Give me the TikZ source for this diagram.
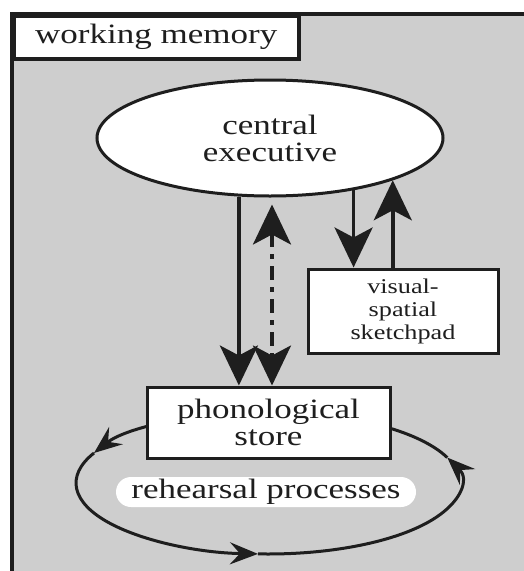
\documentclass[tikz,border=0pt]{standalone}
\usepackage{fontspec}
\setmainfont{Liberation Serif}[FakeStretch=1.25]
\usetikzlibrary{arrows.meta,shapes.geometric}
\definecolor{panelgray}{RGB}{206,206,206}
\definecolor{ink}{RGB}{30,30,30}
\tikzset{
  frameline/.style={draw=ink, line width=4pt},
  boxnode/.style={draw=ink, fill=white, line width=3pt, text=ink, align=center, inner sep=0pt,
    font=\fontsize{28}{27}\selectfont},
  bigtip/.tip={Stealth[length=40pt,width=38pt,inset=10pt]},
  smalltip/.tip={Stealth[length=28pt,width=22pt,inset=10pt]},
  bigarrow/.style={draw=ink, line width=3.5pt, -bigtip},
  bothways/.style={draw=ink, line width=3.5pt, bigtip-bigtip,
    dash pattern=on 14pt off 7pt on 5pt off 7pt},
  loopline/.style={draw=ink, line width=3pt, -smalltip},
  loopend/.style={draw=ink, line width=3pt},
}
\begin{document}
\begin{tikzpicture}[x=1pt,y=-1pt]
\useasboundingbox (0,0) rectangle (524,571);
% shaded panel, cut off at the right and bottom
\fill[panelgray] (12,14) rectangle (524,571);
\draw[frameline] (12,571) -- (12,14) -- (524,14);

% title tab
\node[boxnode, line width=3.5pt, minimum width=285pt, minimum height=43pt, anchor=north west]
  (wm) at (12,14) {working memory};

% rehearsal loop (drawn first so the store box sits on top of it)
\draw[loopline] (268,412) arc[start angle=270, end angle=205, x radius=192, y radius=71];
\draw[loopline] (94.0,453.0) arc[start angle=205, end angle=93, x radius=192, y radius=71];
\draw[loopline] (258.0,553.9) arc[start angle=93, end angle=-21, x radius=192, y radius=71];
\draw[loopend] (447.3,457.6) arc[start angle=-21, end angle=-90, x radius=192, y radius=71];

\node[fill=white, rounded corners=15pt, minimum width=300pt, minimum height=30pt, inner sep=0pt,
  text=ink, font=\fontsize{28}{27}\selectfont] (rp) at (266,492) {rehearsal processes};

% components
\node[boxnode, ellipse, minimum width=346pt, minimum height=116pt] (ce) at (270,138)
  {central\\executive};
\node[boxnode, minimum width=243pt, minimum height=71pt] (ph) at (268.5,422.5)
  {phonological\\store};
\node[boxnode, minimum width=190pt, minimum height=84pt,
  font=\fontsize{21}{23}\selectfont] (vs) at (403,311)
  {visual-\\spatial\\sketchpad};

% connections
\draw[bigarrow] (ce.242.3) -- (ce.242.3 |- ph.north);
\draw[bothways] ([xshift=2pt,yshift=-7pt]ce.south) -- ([xshift=2pt]ce.south |- ph.north);
\draw[bigarrow] (ce.328.9) -- (ce.328.9 |- vs.north);
\draw[bigarrow] (vs.north -| ce.341.6) -- (ce.341.6);
\end{tikzpicture}
\end{document}
